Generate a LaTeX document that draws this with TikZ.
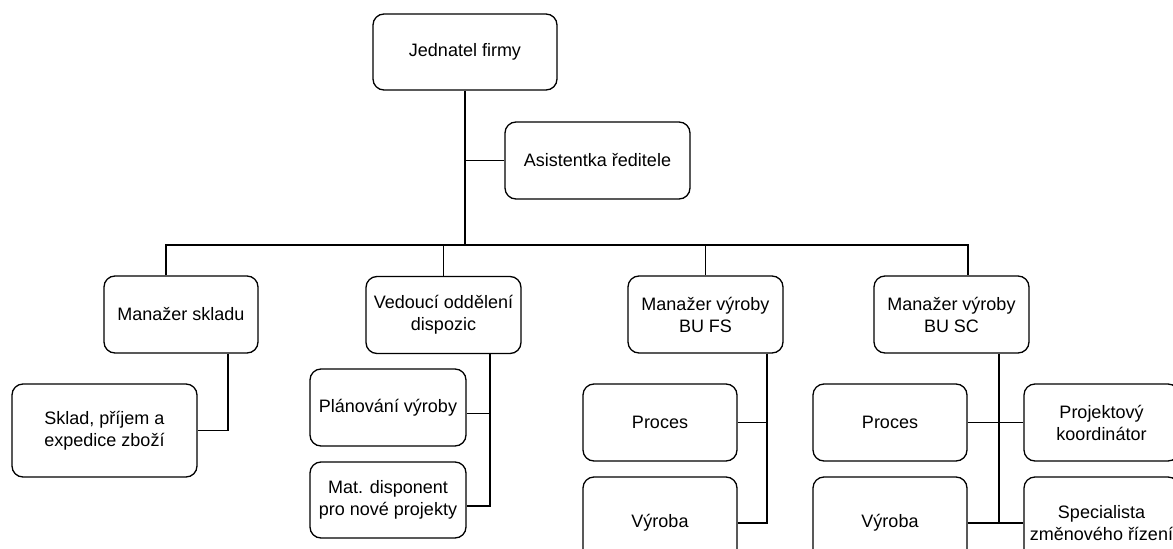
\documentclass[tikz,border=0pt]{standalone}
\usepackage{fontspec}
\setmainfont{Liberation Sans}
\usepackage{tikz}
\usetikzlibrary{positioning}

\begin{document}
\begin{tikzpicture}[x=1pt,y=-1pt]
    \tikzset{
    role/.style={
        draw, rounded corners=11pt, line width=1.3pt,
        inner sep=0pt, align=center,
        font=\fontsize{18}{22}\selectfont
    },
    link/.style={line width=1.3pt}
    }
        \useasboundingbox (0,0) rectangle (1173,549);
        \clip (0,0) rectangle (1173,549);

        \coordinate (bar) at (0,245);

        \node (boss)[role, minimum width=184pt, minimum height=76pt] at (465,52) {Jednatel firmy};
        \node (asst)[role, minimum width=185pt, minimum height=77pt] at (597.5,160.5) {Asistentka ředitele};

        \node (skl)[role, minimum width=154pt, minimum height=77pt] at (181,314.5) {Manažer skladu};
        \node (vd)[role, minimum width=155pt, minimum height=77pt] at (443.5,315) {Vedoucí oddělení\\dispozic};
        \node (fs)[role, minimum width=155pt, minimum height=77pt] at (705.5,314.5) {Manažer výroby\\BU FS};
        \node (sc)[role, minimum width=155pt, minimum height=77pt] at (951.5,314.5) {Manažer výroby\\BU SC};

        \node (sk)[role, minimum width=185pt, minimum height=93pt] at (104.5,430.5) {Sklad, příjem a\\expedice zboží};
        \node (pl)[role, minimum width=156pt, minimum height=77pt] at (388,407.5) {Plánování výroby};
        \node (md)[role, minimum width=156pt, minimum height=76pt] at (388,500) {Mat. disponent\\pro nové projekty};
        \node (pr1)[role, minimum width=154pt, minimum height=77pt] at (660,422.5) {Proces};
        \node (vy1)[role, minimum width=154pt, minimum height=92pt] at (660,523) {Výroba};
        \node (pr2)[role, minimum width=154pt, minimum height=77pt] at (890,422.5) {Proces};
        \node (vy2)[role, minimum width=154pt, minimum height=92pt] at (890,523) {Výroba};
        \node (pk)[role, minimum width=155pt, minimum height=77pt] at (1101.5,422.5) {Projektový\\koordinátor};
        \node (sz)[role, minimum width=155pt, minimum height=92pt] at (1101.5,523) {Specialista\\změnového řízení};

        \draw[link] (boss.south) -- (boss.south |- bar);
        \draw[link] (boss.south |- asst.west) -- (asst.west);
        \draw[link] ([xshift=-15pt]skl.north) -- ([xshift=-15pt]skl.north |- bar) -| ([xshift=16.5pt]sc.north);
        \draw[link] (vd.north) -- (vd.north |- bar);
        \draw[link] (fs.north) -- (fs.north |- bar);

        \draw[link] ([xshift=47pt]skl.south) |- (sk.east);
        \draw[link] ([xshift=46.5pt]vd.south) |- ([yshift=-6pt]pl.east);
        \draw[link] ([xshift=46.5pt]vd.south) |- ([yshift=-6pt]md.east);
        \draw[link] ([xshift=61.5pt]fs.south) |- (pr1.east);
        \draw[link] ([xshift=61.5pt]fs.south) |- (vy1.east);
        \draw[link] ([xshift=47.5pt]sc.south) |- (vy2.east);
        \draw[link] (pr2.east) -- (pk.west);
        \draw[link] (vy2.east) -- (sz.west);

    \end{tikzpicture}
\end{document}
